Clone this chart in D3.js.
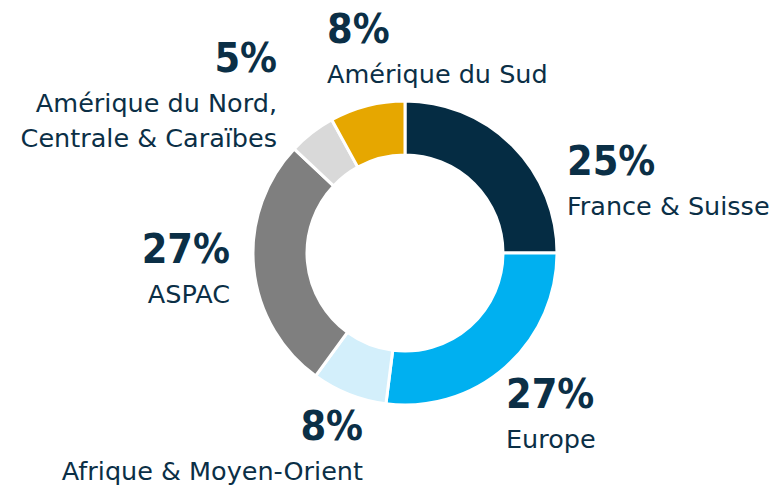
<!DOCTYPE html>
<html>
<head>
<meta charset="utf-8">
<script src="https://cdn.jsdelivr.net/npm/d3@7"></script>
<style>
	body { margin: 0; background: #fff; }
	text { fill: #0b2f46; }
	.pct { font-family: "DejaVu Sans Condensed", "DejaVu Sans", sans-serif; font-stretch: condensed; font-weight: bold; font-size: 41px; }
	.lbl { font-family: "DejaVu Sans", sans-serif; font-size: 25.5px; }
</style>
</head>
<body>
<svg id="chart"></svg>
<script>
const regions = [
	"France & Suisse",
	"Europe",
	"Afrique & Moyen-Orient",
	"ASPAC",
	"Amérique du Nord, Centrale & Caraïbes",
	"Amérique du Sud"
];
const shares = [25, 27, 8, 27, 5, 8];
const colors = ["#052c43", "#00b0f0", "#d3effb", "#7f7f7f", "#d9d9d9", "#e6a700"];
const labelLines = [
	["France & Suisse"],
	["Europe"],
	["Afrique & Moyen-Orient"],
	["ASPAC"],
	["Amérique du Nord,", "Centrale & Caraïbes"],
	["Amérique du Sud"]
];

const size = { width: 774, height: 486 };
const center = { x: 405, y: 253 };
const radius = { inner: 98, outer: 152 };

// where each label block sits: x, baseline of the percent, anchor
const labelLayout = [
	{ x: 567, y: 175, anchor: "start" },
	{ x: 506, y: 408, anchor: "start" },
	{ x: 363, y: 440, anchor: "end" },
	{ x: 230, y: 263, anchor: "end" },
	{ x: 277, y: 72, anchor: "end" },
	{ x: 327, y: 43, anchor: "start" }
];

const drawChart = () => {
	const svg = d3
		.select("#chart")
		.attr("width", size.width)
		.attr("height", size.height);

	const pie = d3
		.pie()
		.sort(null)
		.value(d => d.share);

	const arc = d3
		.arc()
		.innerRadius(radius.inner)
		.outerRadius(radius.outer);

	const slices = regions.map((name, i) => ({ name, share: shares[i], color: colors[i] }));

	svg
		.append("g")
		.attr("transform", `translate(${center.x},${center.y})`)
		.selectAll("path")
		.data(pie(slices))
		.enter()
		.append("path")
		.attr("d", arc)
		.attr("fill", d => d.data.color)
		.attr("stroke", "#fff")
		.attr("stroke-width", 3);

	const labels = svg
		.selectAll(".label")
		.data(slices)
		.enter()
		.append("g")
		.attr("class", "label")
		.attr("transform", (d, i) => `translate(${labelLayout[i].x},${labelLayout[i].y})`);

	labels
		.append("text")
		.attr("class", "pct")
		.attr("text-anchor", (d, i) => labelLayout[i].anchor)
		.text(d => `${d.share}%`);

	labels.each(function (d, i) {
		d3.select(this)
			.selectAll(".lbl")
			.data(labelLines[i])
			.enter()
			.append("text")
			.attr("class", "lbl")
			.attr("text-anchor", labelLayout[i].anchor)
			.attr("y", (line, j) => 40 + j * 35)
			.text(line => line);
	});
};

window.onload = drawChart;
</script>
</body>
</html>
